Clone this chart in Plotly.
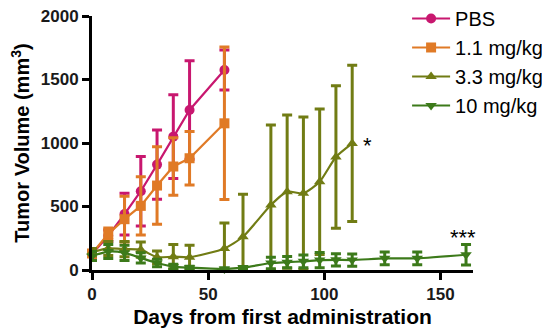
import plotly.graph_objects as go

# ---- data ----
days_short = [0, 7, 14, 21, 28, 35, 42, 57]
pbs_mean = [125, 270, 440, 620, 830, 1050, 1260, 1575]
pbs_err = [30, 45, 165, 273, 272, 330, 388, 157]

mg11_mean = [130, 285, 400, 505, 665, 815, 880, 1155]
mg11_err = [30, 45, 180, 230, 305, 227, 210, 600]

days_mid = [0, 7, 14, 21, 28, 35, 42, 57, 65, 77, 84, 91, 98, 105, 112]
mg33_mean = [140, 170, 165, 160, 100, 105, 100, 170, 262, 512, 617, 604, 695, 890, 997]
mg33_err = [30, 55, 60, 60, 50, 95, 95, 200, 334, 630, 603, 600, 573, 561, 616]

days_long = [0, 7, 14, 21, 28, 35, 42, 57, 65, 77, 84, 91, 98, 105, 112, 126, 140, 161]
mg10_mean = [110, 145, 135, 95, 55, 26, 18, 8, 18, 55, 62, 68, 78, 80, 78, 92, 92, 120]
mg10_err = [35, 55, 60, 40, 30, 20, 12, 8, 10, 45, 45, 50, 60, 48, 48, 50, 50, 80]

names = ["PBS", "1.1 mg/kg", "3.3 mg/kg", "10 mg/kg"]
x_ticks = [0, 50, 100, 150]
y_ticks = [0, 500, 1000, 1500, 2000]

# ---- style ----
colors = ["#C8176F", "#E07A26", "#717C14", "#3C7A1A"]
symbols = ["circle", "square", "triangle-up", "triangle-down"]
shapes = ["linear", "linear", "spline", "spline"]
FONT = "Arial, Liberation Sans, sans-serif"

series = [
    (days_short, pbs_mean, pbs_err),
    (days_short, mg11_mean, mg11_err),
    (days_mid, mg33_mean, mg33_err),
    (days_long, mg10_mean, mg10_err),
]

fig = go.Figure()
for (x, m, e), name, c, s, shp in zip(series, names, colors, symbols, shapes):
    minus = [min(ei, mi) for ei, mi in zip(e, m)]
    fig.add_trace(go.Scatter(
        x=x, y=m, name=name, mode="lines+markers",
        line=dict(color=c, width=2.2, shape=shp, smoothing=0.6),
        marker=dict(color=c, symbol=s, size=10),
        error_y=dict(type="data", array=e, arrayminus=minus, symmetric=False,
                     color=c, thickness=3, width=5),
        cliponaxis=False,
    ))

fig.add_annotation(x=118.5, y=1000, text="*", showarrow=False,
                   font=dict(family=FONT, size=22, color="black"),
                   xanchor="center", yanchor="middle", yshift=-2)
fig.add_annotation(x=159.5, y=275, text="***", showarrow=False,
                   font=dict(family=FONT, size=22, color="black"),
                   xanchor="center", yanchor="middle", yshift=-2)

axis_common = dict(
    showline=True, linecolor="black", linewidth=3,
    ticks="outside", ticklen=7, tickwidth=2.5, tickcolor="black",
    showgrid=False, zeroline=False, automargin=False,
    ticklabeloverflow="allow",
    tickfont=dict(family=FONT, size=17, color="#1a1a1a", weight="bold"),
)

# page body has an 8px margin, so the figure is sized to the remaining window
fig.update_layout(
    width=542, height=320,
    margin=dict(l=84, r=77, t=8, b=58, autoexpand=False),
    paper_bgcolor="white", plot_bgcolor="white",
    font=dict(family=FONT, color="black"),
    xaxis=dict(range=[0, 164], tickvals=x_ticks,
               title=dict(text="<b>Days from first administration</b>",
                          font=dict(family=FONT, size=21, color="black"), standoff=8),
               **axis_common),
    yaxis=dict(range=[0, 2000], tickvals=y_ticks,
               title=dict(text="<b>Tumor Volume (mm<sup>3</sup>)</b>",
                          font=dict(family=FONT, size=20, color="black"), standoff=8),
               **axis_common),
    legend=dict(x=0.827, y=1.067, xanchor="left", yanchor="top",
                font=dict(family=FONT, size=20, color="black"),
                bgcolor="rgba(0,0,0,0)", itemwidth=38),
    showlegend=True,
)

fig.write_html("out.html")
